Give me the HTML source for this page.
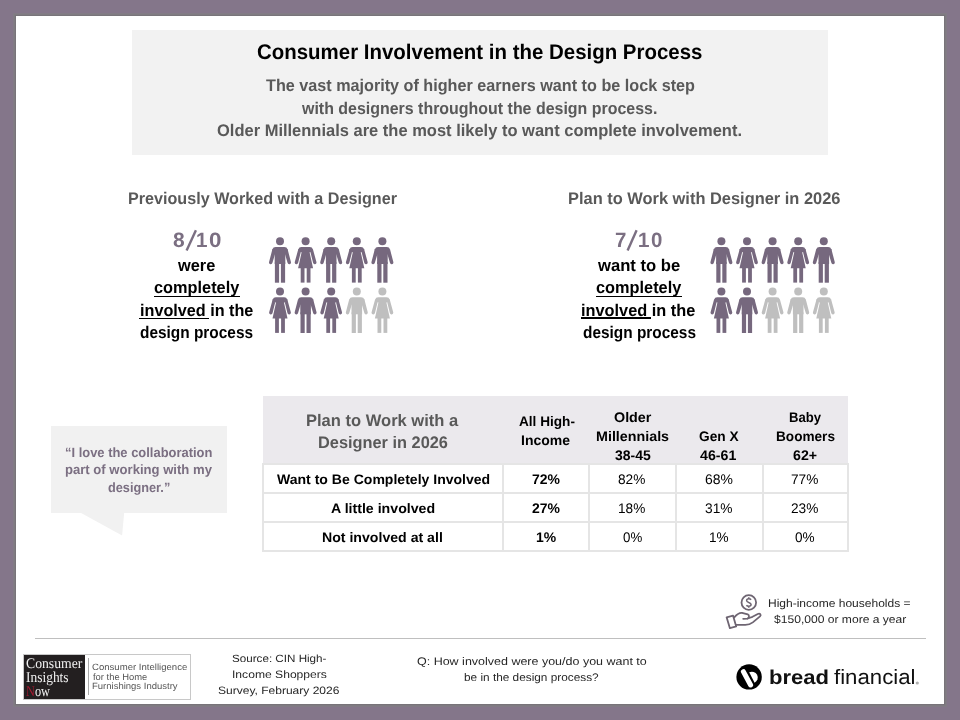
<!DOCTYPE html>
<html><head><meta charset="utf-8"><style>
*{margin:0;padding:0;box-sizing:border-box}
html,body{width:960px;height:720px;overflow:hidden;background:#84768a}
body{position:relative;font-family:"Liberation Sans",sans-serif;text-rendering:geometricPrecision}
.a{position:absolute}
.t{position:absolute;white-space:nowrap;line-height:1;transform-origin:0 0;filter:saturate(1)}
</style></head><body>
<div class="a" style="left:16px;top:16px;width:928px;height:688px;background:#fff;box-shadow:0 0 0 1px #78747a,0 0 0 2px #7f7b81,0 0 0 3px #827b85"></div>
<div class="a" style="left:132px;top:30px;width:696px;height:124.5px;background:#f2f2f2"></div>
<div class="a" style="left:263px;top:396px;width:585px;height:68px;background:#ebe9ed"></div>
<div class="a" style="left:51px;top:426px;width:175.5px;height:86.5px;background:#f1f1f1"></div>
<!-- table grid -->
<div class="a" style="left:262.0px;top:463.2px;width:2px;height:88.3px;background:#e5e5e5"></div>
<div class="a" style="left:502.0px;top:463.2px;width:2px;height:88.3px;background:#e5e5e5"></div>
<div class="a" style="left:588.3px;top:463.2px;width:2px;height:88.3px;background:#e5e5e5"></div>
<div class="a" style="left:675.0px;top:463.2px;width:2px;height:88.3px;background:#e5e5e5"></div>
<div class="a" style="left:761.6px;top:463.2px;width:2px;height:88.3px;background:#e5e5e5"></div>
<div class="a" style="left:847.4px;top:463.2px;width:2px;height:88.3px;background:#e5e5e5"></div>
<div class="a" style="left:262px;top:463.2px;width:587.4px;height:2px;background:#e5e5e5"></div>
<div class="a" style="left:262px;top:492.0px;width:587.4px;height:2px;background:#e5e5e5"></div>
<div class="a" style="left:262px;top:521.0px;width:587.4px;height:2px;background:#e5e5e5"></div>
<div class="a" style="left:262px;top:549.5px;width:587.4px;height:2px;background:#e5e5e5"></div>
<!-- underlines -->
<div class="a" style="left:154px;top:295.6px;width:85.7px;height:1.3px;background:#000"></div>
<div class="a" style="left:139px;top:317.5px;width:69.75px;height:1.3px;background:#000"></div>
<div class="a" style="left:596.25px;top:295.6px;width:85.75px;height:1.3px;background:#000"></div>
<div class="a" style="left:581.4px;top:317.3px;width:69.6px;height:1.3px;background:#000"></div>
<!-- footer line -->
<div class="a" style="left:34.75px;top:637.6px;width:891.25px;height:1px;background:#bfbfbf"></div>
<!-- CIN logo -->
<div class="a" style="left:22.9px;top:653.5px;width:167.7px;height:46.9px;border:1px solid #c8c8c8;background:#fff"></div>
<div class="a" style="left:24.2px;top:655.4px;width:60.4px;height:43.35px;background:#231f20"></div>
<div class="a" style="left:88.3px;top:658.4px;width:1px;height:37.1px;background:#aaa"></div>
<svg class="a" style="left:0;top:0" width="960" height="720" viewBox="0 0 960 720">
<defs>
<symbol id="m" viewBox="0 0 28 48" width="28" height="48" overflow="visible">
<circle cx="14" cy="6.3" r="4.0"/>
<path d="M9.6 11.9H18.4Q20.9 11.9 21.5 14.2L21.6 19.5H6.4L6.5 14.2Q7.1 11.9 9.6 11.9Z"/>
<rect x="8.7" y="13" width="10.6" height="16"/>
<path d="M6.5 13.8L3.0 27.3A1.75 1.75 0 0 0 6.45 27.8L8.9 19.5Z"/><path d="M21.5 13.8L25.0 27.3A1.75 1.75 0 0 1 21.55 27.8L19.1 19.5Z"/>
<rect x="8.9" y="27" width="4.2" height="20.7"/>
<rect x="14.9" y="27" width="4.2" height="20.7"/>
</symbol>
<symbol id="w" viewBox="0 0 28 48" width="28" height="48" overflow="visible">
<circle cx="14" cy="6.3" r="4.0"/>
<path d="M9.8 11.9H18.2Q20.6 11.9 21.2 14.2L21.3 17.2H6.7L6.8 14.2Q7.4 11.9 9.8 11.9Z"/>
<path d="M10.3 16H17.7L21.5 33.2H6.5Z"/>
<path d="M6.8 13.8L3.1 27.3A1.75 1.75 0 0 0 6.55 27.8L9.1 17.5Z"/><path d="M21.2 13.8L24.9 27.3A1.75 1.75 0 0 1 21.45 27.8L18.9 17.5Z"/>
<rect x="9.1" y="32.5" width="3.8" height="15.1"/>
<rect x="15.1" y="32.5" width="3.8" height="15.1"/>
</symbol>
</defs>
<use href="#m" x="266.00" y="235.00" fill="#76687e"/><use href="#w" x="266.00" y="285.30" fill="#76687e"/><use href="#m" x="707.40" y="235.00" fill="#76687e"/><use href="#w" x="707.40" y="285.30" fill="#76687e"/><use href="#w" x="291.60" y="235.00" fill="#76687e"/><use href="#m" x="291.60" y="285.30" fill="#76687e"/><use href="#w" x="733.00" y="235.00" fill="#76687e"/><use href="#m" x="733.00" y="285.30" fill="#76687e"/><use href="#m" x="317.20" y="235.00" fill="#76687e"/><use href="#w" x="317.20" y="285.30" fill="#76687e"/><use href="#m" x="758.60" y="235.00" fill="#76687e"/><use href="#w" x="758.60" y="285.30" fill="#bfbfbf"/><use href="#w" x="342.80" y="235.00" fill="#76687e"/><use href="#m" x="342.80" y="285.30" fill="#bfbfbf"/><use href="#w" x="784.20" y="235.00" fill="#76687e"/><use href="#m" x="784.20" y="285.30" fill="#bfbfbf"/><use href="#m" x="368.40" y="235.00" fill="#76687e"/><use href="#w" x="368.40" y="285.30" fill="#bfbfbf"/><use href="#m" x="809.80" y="235.00" fill="#76687e"/><use href="#w" x="809.80" y="285.30" fill="#bfbfbf"/>
<polygon points="80.2,512.4 124.2,512.4 122.1,535.5" fill="#f1f1f1"/>
<g stroke="#7b6f82" stroke-width="2.4"><line x1="195.9" y1="230.2" x2="186.6" y2="250.6"/><line x1="636.6" y1="230.2" x2="627.6" y2="250.6"/></g>
<rect x="197.7" y="245.1" width="9.3" height="1.7" fill="#7b6f82"/><rect x="639.4" y="245.1" width="9.6" height="1.7" fill="#7b6f82"/>
<!-- money icon -->
<g fill="none" stroke="#6e6572" stroke-width="1.8" stroke-linejoin="round" stroke-linecap="round">
<circle cx="748.8" cy="602.5" r="7.3"/>
<polygon points="726.6,617.3 733.1,615.7 736.2,626.4 729.9,628.2"/>
<path d="M734.5 617.2C737 614.2 739.5 612.6 742 612.9L747.8 614.3C749.6 614.9 749.3 618.3 747.4 618.6L743.2 618.8"/>
<path d="M747.6 618.5L752.5 616.8L757.8 614C759.8 613 761.6 614.8 760 616.4L752.8 622.4C750.4 624.2 748 624.8 745.3 624.8L736.3 624.8"/>
</g>
<path d="M751.1 599.7C750.6 599 749.8 598.7 748.8 598.7C747.5 598.7 746.6 599.4 746.6 600.5C746.6 601.7 747.7 602.1 748.8 602.5C750 602.9 751.1 603.4 751.1 604.6C751.1 605.7 750.1 606.3 748.8 606.3C747.7 606.3 746.9 605.9 746.4 605.2M748.8 597.3V598.7M748.8 606.3V607.7" fill="none" stroke="#6e6572" stroke-width="1.5" stroke-linecap="butt"/>
<!-- bread logo -->
<circle cx="749.1" cy="676.9" r="12.7" fill="#000"/>
<line x1="743.4" y1="671.6" x2="750.6" y2="685" stroke="#fff" stroke-width="5.0" stroke-linecap="round"/>
<path d="M749.2 672.3A5.85 5.85 0 0 1 754.6 682.7Z" fill="#fff"/>
<circle cx="917.3" cy="683" r="1.6" fill="#b0b0b0"/>
</svg>
<div class="t" style="left:257.11px;top:42px;font-size:21.20px;font-weight:700;font-family:'Liberation Sans', sans-serif;color:#000;transform:scaleX(0.9651)">Consumer Involvement in the Design Process</div><div class="t" style="left:265.60px;top:78px;font-size:16.90px;font-weight:700;font-family:'Liberation Sans', sans-serif;color:#595959;transform:scaleX(0.9580)">The vast majority of higher earners want to be lock step</div><div class="t" style="left:302.15px;top:101px;font-size:16.90px;font-weight:700;font-family:'Liberation Sans', sans-serif;color:#595959;transform:scaleX(0.9443)">with designers throughout the design process.</div><div class="t" style="left:217.23px;top:123px;font-size:16.90px;font-weight:700;font-family:'Liberation Sans', sans-serif;color:#595959;transform:scaleX(0.9761)">Older Millennials are the most likely to want complete involvement.</div><div class="t" style="left:127.99px;top:191px;font-size:16.80px;font-weight:700;font-family:'Liberation Sans', sans-serif;color:#595959;transform:scaleX(0.9623)">Previously Worked with a Designer</div><div class="t" style="left:567.97px;top:191px;font-size:16.80px;font-weight:700;font-family:'Liberation Sans', sans-serif;color:#595959;transform:scaleX(0.9782)">Plan to Work with Designer in 2026</div><div class="t" style="left:173.14px;top:231px;font-size:20.80px;font-weight:700;font-family:'Liberation Sans', sans-serif;color:#7b6f82;transform:scaleX(1.0096)">8</div><div class="t" style="left:196.35px;top:231px;font-size:20.80px;font-weight:700;font-family:'Liberation Sans', sans-serif;color:#7b6f82;transform:scaleX(0.9641)">1</div><div class="t" style="left:209.00px;top:231px;font-size:20.80px;font-weight:700;font-family:'Liberation Sans', sans-serif;color:#7b6f82;transform:scaleX(1.0720)">0</div><div class="t" style="left:615.46px;top:231px;font-size:20.80px;font-weight:700;font-family:'Liberation Sans', sans-serif;color:#7b6f82;transform:scaleX(0.9826)">7</div><div class="t" style="left:638.15px;top:231px;font-size:20.80px;font-weight:700;font-family:'Liberation Sans', sans-serif;color:#7b6f82;transform:scaleX(0.9641)">1</div><div class="t" style="left:651.06px;top:231px;font-size:20.80px;font-weight:700;font-family:'Liberation Sans', sans-serif;color:#7b6f82;transform:scaleX(0.9826)">0</div><div class="t" style="left:178.36px;top:258px;font-size:16.90px;font-weight:700;font-family:'Liberation Sans', sans-serif;color:#000;transform:scaleX(0.9697)">were</div><div class="t" style="left:154.29px;top:280px;font-size:16.90px;font-weight:700;font-family:'Liberation Sans', sans-serif;color:#000;transform:scaleX(0.9662)">completely</div><div class="t" style="left:139.89px;top:303px;font-size:16.90px;font-weight:700;font-family:'Liberation Sans', sans-serif;color:#000;transform:scaleX(0.9586)">involved in the</div><div class="t" style="left:140.42px;top:325px;font-size:16.90px;font-weight:700;font-family:'Liberation Sans', sans-serif;color:#000;transform:scaleX(0.9123)">design process</div><div class="t" style="left:598.26px;top:258px;font-size:16.90px;font-weight:700;font-family:'Liberation Sans', sans-serif;color:#000;transform:scaleX(0.9844)">want to be</div><div class="t" style="left:596.19px;top:280px;font-size:16.90px;font-weight:700;font-family:'Liberation Sans', sans-serif;color:#000;transform:scaleX(0.9662)">completely</div><div class="t" style="left:580.98px;top:303px;font-size:16.90px;font-weight:700;font-family:'Liberation Sans', sans-serif;color:#000;transform:scaleX(0.9671)">involved in the</div><div class="t" style="left:582.62px;top:325px;font-size:16.90px;font-weight:700;font-family:'Liberation Sans', sans-serif;color:#000;transform:scaleX(0.9115)">design process</div><div class="t" style="left:305.77px;top:413px;font-size:16.70px;font-weight:700;font-family:'Liberation Sans', sans-serif;color:#595959;transform:scaleX(0.9910)">Plan to Work with a</div><div class="t" style="left:317.68px;top:435px;font-size:16.70px;font-weight:700;font-family:'Liberation Sans', sans-serif;color:#595959;transform:scaleX(0.9796)">Designer in 2026</div><div class="t" style="left:518.54px;top:415px;font-size:13.90px;font-weight:700;font-family:'Liberation Sans', sans-serif;color:#000;transform:scaleX(0.9794)">All High-</div><div class="t" style="left:520.72px;top:434px;font-size:13.90px;font-weight:700;font-family:'Liberation Sans', sans-serif;color:#000;transform:scaleX(1.0074)">Income</div><div class="t" style="left:614.30px;top:411px;font-size:13.90px;font-weight:700;font-family:'Liberation Sans', sans-serif;color:#000;transform:scaleX(1.0302)">Older</div><div class="t" style="left:596.21px;top:430px;font-size:13.90px;font-weight:700;font-family:'Liberation Sans', sans-serif;color:#000;transform:scaleX(1.0290)">Millennials</div><div class="t" style="left:614.53px;top:449px;font-size:13.90px;font-weight:700;font-family:'Liberation Sans', sans-serif;color:#000;transform:scaleX(1.0075)">38-45</div><div class="t" style="left:699.27px;top:430px;font-size:13.90px;font-weight:700;font-family:'Liberation Sans', sans-serif;color:#000;transform:scaleX(0.9874)">Gen X</div><div class="t" style="left:700.25px;top:449px;font-size:13.90px;font-weight:700;font-family:'Liberation Sans', sans-serif;color:#000;transform:scaleX(1.0226)">46-61</div><div class="t" style="left:788.88px;top:411px;font-size:13.90px;font-weight:700;font-family:'Liberation Sans', sans-serif;color:#000;transform:scaleX(0.9425)">Baby</div><div class="t" style="left:776.25px;top:430px;font-size:13.90px;font-weight:700;font-family:'Liberation Sans', sans-serif;color:#000;transform:scaleX(0.9793)">Boomers</div><div class="t" style="left:792.96px;top:449px;font-size:13.90px;font-weight:700;font-family:'Liberation Sans', sans-serif;color:#000;transform:scaleX(1.0208)">62+</div><div class="t" style="left:276.70px;top:473px;font-size:13.70px;font-weight:700;font-family:'Liberation Sans', sans-serif;color:#000;transform:scaleX(1.0256)">Want to Be Completely Involved</div><div class="t" style="left:331.48px;top:502px;font-size:13.70px;font-weight:700;font-family:'Liberation Sans', sans-serif;color:#000;transform:scaleX(1.0344)">A little involved</div><div class="t" style="left:322.12px;top:531px;font-size:13.70px;font-weight:700;font-family:'Liberation Sans', sans-serif;color:#000;transform:scaleX(1.0314)">Not involved at all</div><div class="t" style="left:531.81px;top:473px;font-size:13.90px;font-weight:700;font-family:'Liberation Sans', sans-serif;color:#000;transform:scaleX(1.0059)">72%</div><div class="t" style="left:618.07px;top:473px;font-size:13.90px;font-weight:400;font-family:'Liberation Sans', sans-serif;color:#000;transform:scaleX(0.9825)">82%</div><div class="t" style="left:704.75px;top:473px;font-size:13.90px;font-weight:400;font-family:'Liberation Sans', sans-serif;color:#000;transform:scaleX(1.0036)">68%</div><div class="t" style="left:791.06px;top:473px;font-size:13.90px;font-weight:400;font-family:'Liberation Sans', sans-serif;color:#000;transform:scaleX(0.9830)">77%</div><div class="t" style="left:531.81px;top:502px;font-size:13.90px;font-weight:700;font-family:'Liberation Sans', sans-serif;color:#000;transform:scaleX(1.0059)">27%</div><div class="t" style="left:618.15px;top:502px;font-size:13.90px;font-weight:400;font-family:'Liberation Sans', sans-serif;color:#000;transform:scaleX(0.9797)">18%</div><div class="t" style="left:705.17px;top:502px;font-size:13.90px;font-weight:400;font-family:'Liberation Sans', sans-serif;color:#000;transform:scaleX(0.9881)">31%</div><div class="t" style="left:791.06px;top:502px;font-size:13.90px;font-weight:400;font-family:'Liberation Sans', sans-serif;color:#000;transform:scaleX(0.9830)">23%</div><div class="t" style="left:535.73px;top:531px;font-size:13.90px;font-weight:700;font-family:'Liberation Sans', sans-serif;color:#000;transform:scaleX(1.0040)">1%</div><div class="t" style="left:622.78px;top:531px;font-size:13.90px;font-weight:400;font-family:'Liberation Sans', sans-serif;color:#000;transform:scaleX(0.9563)">0%</div><div class="t" style="left:708.90px;top:531px;font-size:13.90px;font-weight:400;font-family:'Liberation Sans', sans-serif;color:#000;transform:scaleX(0.9757)">1%</div><div class="t" style="left:794.98px;top:531px;font-size:13.90px;font-weight:400;font-family:'Liberation Sans', sans-serif;color:#000;transform:scaleX(0.9771)">0%</div><div class="t" style="left:65.39px;top:446px;font-size:13.34px;font-weight:700;font-family:'Liberation Sans', sans-serif;color:#7b6f82;transform:scaleX(0.9709)">“I love the collaboration</div><div class="t" style="left:64.88px;top:463px;font-size:13.48px;font-weight:700;font-family:'Liberation Sans', sans-serif;color:#7b6f82;transform:scaleX(0.9719)">part of working with my</div><div class="t" style="left:108.30px;top:481px;font-size:13.48px;font-weight:700;font-family:'Liberation Sans', sans-serif;color:#7b6f82;transform:scaleX(0.9449)">designer.”</div><div class="t" style="left:231.84px;top:654px;font-size:10.52px;font-weight:400;font-family:'Liberation Sans', sans-serif;color:#262626;transform:scaleX(1.1069)">Source: CIN High-</div><div class="t" style="left:232.05px;top:670px;font-size:10.81px;font-weight:400;font-family:'Liberation Sans', sans-serif;color:#262626;transform:scaleX(1.1215)">Income Shoppers</div><div class="t" style="left:217.92px;top:686px;font-size:10.67px;font-weight:400;font-family:'Liberation Sans', sans-serif;color:#262626;transform:scaleX(1.1283)">Survey, February 2026</div><div class="t" style="left:417.16px;top:657px;font-size:11.02px;font-weight:400;font-family:'Liberation Sans', sans-serif;color:#262626;transform:scaleX(1.1336)">Q: How involved were you/do you want to</div><div class="t" style="left:464.26px;top:673px;font-size:11.03px;font-weight:400;font-family:'Liberation Sans', sans-serif;color:#262626;transform:scaleX(1.0726)">be in the design process?</div><div class="t" style="left:768.46px;top:599px;font-size:11.30px;font-weight:400;font-family:'Liberation Sans', sans-serif;color:#262626;transform:scaleX(1.0632)">High-income households =</div><div class="t" style="left:773.75px;top:615px;font-size:11.00px;font-weight:400;font-family:'Liberation Sans', sans-serif;color:#262626;transform:scaleX(1.0983)">$150,000 or more a year</div><div class="t" style="left:25.82px;top:657px;font-size:14.59px;font-weight:400;font-family:'Liberation Serif', serif;color:#f2f2f2;transform:scaleX(0.9394)">Consumer</div><div class="t" style="left:26.08px;top:671px;font-size:15.09px;font-weight:400;font-family:'Liberation Serif', serif;color:#f2f2f2;transform:scaleX(0.8918)">Insights</div><div class="t" style="left:26.06px;top:685px;font-size:15.09px;font-weight:400;font-family:'Liberation Serif', serif;color:#f2f2f2;transform:scaleX(0.8175)"><span style="color:#a3182f">N</span>ow</div><div class="t" style="left:92.30px;top:663px;font-size:9.10px;font-weight:400;font-family:'Liberation Sans', sans-serif;color:#555;transform:scaleX(1.0530)">Consumer Intelligence</div><div class="t" style="left:92.75px;top:673px;font-size:9.24px;font-weight:400;font-family:'Liberation Sans', sans-serif;color:#555;transform:scaleX(1.0182)">for the Home</div><div class="t" style="left:92.01px;top:682px;font-size:9.17px;font-weight:400;font-family:'Liberation Sans', sans-serif;color:#555;transform:scaleX(1.0379)">Furnishings Industry</div><div class="t" style="left:768.72px;top:668px;font-size:20.20px;font-weight:700;font-family:'Liberation Sans', sans-serif;color:#111;transform:scaleX(1.0924)">bread</div><div class="t" style="left:833.90px;top:668px;font-size:20.80px;font-weight:400;font-family:'Liberation Sans', sans-serif;color:#111;transform:scaleX(1.0688)">financial</div>
</body></html>
